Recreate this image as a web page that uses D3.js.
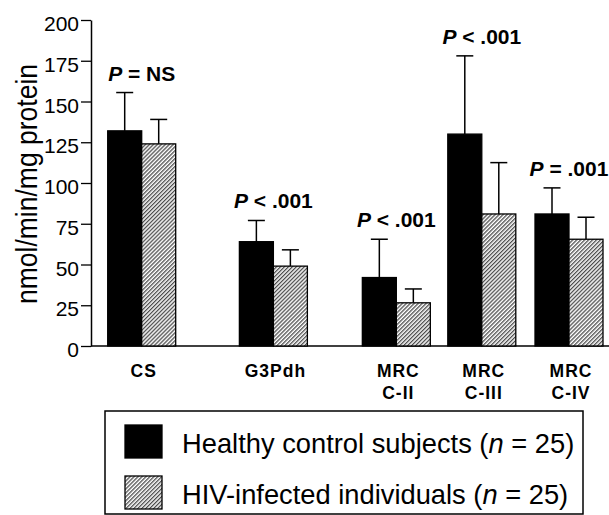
<!DOCTYPE html>
<html>
<head>
<meta charset="utf-8">
<script src="https://cdn.jsdelivr.net/npm/d3@7"></script>
<style>
  html, body { margin: 0; padding: 0; background: #fff; }
  svg { display: block; font-family: "Liberation Sans", Arial, Helvetica, sans-serif; }
</style>
</head>
<body>
<svg id="chart" width="609" height="515"></svg>
<script>
// Enzyme activities (mean and SD) per group
const categories = [["CS"], ["G3Pdh"], ["MRC", "C-II"], ["MRC", "C-III"], ["MRC", "C-IV"]];
const controlMean = [132, 64, 42, 130, 81];
const controlSD = [23.5, 13, 23.5, 48, 16];
const hivMean = [124, 49, 26.5, 81, 65.5];
const hivSD = [15, 10, 8.5, 31.5, 13.5];
const pLabels = ["= NS", "< .001", "< .001", "< .001", "= .001"];
const yTicks = [0, 25, 50, 75, 100, 125, 150, 175, 200];
const seriesNames = ["Healthy control subjects (", "HIV-infected individuals ("];

// Horizontal placement of each group along the axis (groups are not evenly spaced)
const groupSlot = [0, 1.51, 2.92, 3.9, 4.9];

const svg = d3.select("#chart");
const axisX = 91;
const barW = 34;

const y = d3.scaleLinear().domain([0, 200]).range([346, 20]);
const x = d3.scaleLinear().domain([0, 4.9]).range([141.7, 569]);

// Diagonal hatch used for the HIV group
const defs = svg.append("defs");
const pat = defs.append("pattern")
  .attr("id", "hatch")
  .attr("patternUnits", "userSpaceOnUse")
  .attr("width", 2.8).attr("height", 2.8)
  .attr("patternTransform", "rotate(45)");
pat.append("rect").attr("width", 2.8).attr("height", 2.8).attr("fill", "#fff");
pat.append("line").attr("x1", 0.7).attr("y1", 0).attr("x2", 0.7).attr("y2", 2.8)
  .attr("stroke", "#222").attr("stroke-width", 1.05);

// Y axis
const yAxis = d3.axisLeft(y).tickValues(yTicks).tickSize(10).tickPadding(2).tickSizeOuter(0);
const gy = svg.append("g").attr("transform", `translate(${axisX},0)`).call(yAxis);
gy.attr("font-size", 21).attr("font-family", '"Liberation Sans", Arial, sans-serif');
gy.select(".domain").attr("stroke", "#000").attr("stroke-width", 1.5);
gy.selectAll(".tick line").attr("stroke", "#000").attr("stroke-width", 1.3);
gy.selectAll(".tick text")
  .attr("font-size", 21).attr("fill", "#000").attr("dy", "0.5em");

// Baseline
svg.append("line")
  .attr("x1", axisX).attr("x2", 609)
  .attr("y1", y(0)).attr("y2", y(0))
  .attr("stroke", "#000").attr("stroke-width", 1.5);

// Y axis title
svg.append("text")
  .attr("transform", `translate(37,${(y(0) + y(200)) / 2 + 1}) rotate(-90)`)
  .attr("text-anchor", "middle")
  .attr("font-size", 29)
  .attr("textLength", 240).attr("lengthAdjust", "spacingAndGlyphs")
  .attr("fill", "#000")
  .text("nmol/min/mg protein");

const groups = categories.map((c, i) => ({
  label: c, slot: groupSlot[i],
  bars: [
    { mean: controlMean[i], sd: controlSD[i], side: -1, fill: "#000" },
    { mean: hivMean[i], sd: hivSD[i], side: 0, fill: "url(#hatch)" }
  ],
  p: pLabels[i]
}));

const g = svg.selectAll(".grp").data(groups).join("g").attr("class", "grp");

// Error bars (upward only)
g.each(function (d) {
  const sel = d3.select(this);
  d.bars.forEach(b => {
    const cx = x(d.slot) + b.side * barW + barW / 2;
    sel.append("line")
      .attr("x1", cx).attr("x2", cx)
      .attr("y1", y(b.mean)).attr("y2", y(b.mean + b.sd))
      .attr("stroke", "#000").attr("stroke-width", 1.5);
    sel.append("line")
      .attr("x1", cx - 8.5).attr("x2", cx + 8.5)
      .attr("y1", y(b.mean + b.sd)).attr("y2", y(b.mean + b.sd))
      .attr("stroke", "#000").attr("stroke-width", 1.5);
  });
});

// Bars
g.selectAll("rect")
  .data(d => d.bars.map(b => ({ ...b, slot: d.slot })))
  .join("rect")
  .attr("x", b => x(b.slot) + b.side * barW)
  .attr("width", barW)
  .attr("y", b => y(b.mean))
  .attr("height", b => y(0) - y(b.mean))
  .attr("fill", b => b.fill)
  .attr("stroke", "#000").attr("stroke-width", 1.3);

// P value labels above each pair
g.append("text")
  .attr("x", d => x(d.slot))
  .attr("y", d => y(Math.max(...d.bars.map(b => b.mean + b.sd))) - 12)
  .attr("text-anchor", "middle")
  .attr("font-size", 21).attr("font-weight", "bold").attr("fill", "#000")
  .call(t => {
    t.append("tspan").attr("font-style", "italic").text("P");
    t.append("tspan").text(d => " " + d.p);
  });

// Category labels
g.append("text")
  .attr("text-anchor", "middle")
  .attr("font-size", 17.5).attr("font-weight", "bold").attr("fill", "#000")
  .attr("letter-spacing", 1)
  .each(function (d) {
    const t = d3.select(this);
    d.label.forEach((line, k) => {
      t.append("tspan")
        .attr("x", x(d.slot) + 2)
        .attr("y", 377 + k * 22)
        .text(line);
    });
  });

// Legend
const legend = svg.append("g");
legend.append("rect")
  .attr("x", 105).attr("y", 411).attr("width", 478).attr("height", 103)
  .attr("fill", "#fff").attr("stroke", "#000").attr("stroke-width", 1.5);
const legendFills = ["#000", "url(#hatch)"];
seriesNames.forEach((name, i) => {
  const top = 425 + i * 51;
  legend.append("rect")
    .attr("x", 125).attr("y", top).attr("width", 37).attr("height", 33)
    .attr("fill", legendFills[i]).attr("stroke", "#000").attr("stroke-width", 1.3);
  const t = legend.append("text")
    .attr("x", 182).attr("y", top + 28)
    .attr("font-size", 27.3).attr("fill", "#000");
  t.append("tspan").text(name);
  t.append("tspan").attr("font-style", "italic").text("n");
  t.append("tspan").text(" = 25)");
});
</script>
</body>
</html>
